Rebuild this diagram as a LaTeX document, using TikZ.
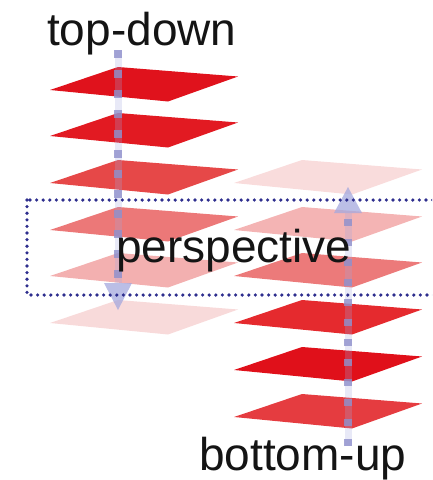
\documentclass[tikz,border=0pt]{standalone}
\usepackage{fontspec}
\setmainfont{Liberation Sans}
\definecolor{L1}{HTML}{E0121C}
\definecolor{L2}{HTML}{E21A22}
\definecolor{L3}{HTML}{E64848}
\definecolor{L4}{HTML}{EC7878}
\definecolor{L5}{HTML}{F3B0B0}
\definecolor{L6}{HTML}{F8DADA}
\definecolor{R1}{HTML}{F9DCDC}
\definecolor{R2}{HTML}{F4B4B4}
\definecolor{R3}{HTML}{EC7A7A}
\definecolor{R4}{HTML}{E52A2E}
\definecolor{R5}{HTML}{E0101A}
\definecolor{R6}{HTML}{E53C40}
\definecolor{lav}{HTML}{A4A8DE}
\definecolor{lavd}{HTML}{8E90CC}
\definecolor{navy}{HTML}{2E2E8E}
\newcommand\myplate[3]{\fill[#3] (#1,#2) -- ++(120,9.5) -- ++(-70,25) -- ++(-118,-11.5) -- cycle;}
\tikzset{
  lbl/.style={inner sep=0pt, anchor=base west, font=\fontsize{46}{50}\selectfont, text=black!92},
  trackline/.style={line width=7pt, lav, opacity=0.25},
  trackdash/.style={line width=7.5pt, lavd, opacity=0.8, dash pattern=on 7.5pt off 12.5pt},
  headtri/.style={fill=lav, opacity=0.75},
  dotbox/.style={navy, line width=3.6pt, line cap=round, dash pattern=on 0pt off 6.6pt}
}
\begin{document}
\begin{tikzpicture}[x=1pt,y=-1pt]
\useasboundingbox (0,0) rectangle (432,480);
\begin{scope}
\clip (0,0) rectangle (432,480);
% left stack
\myplate{118}{67}{L1}
\myplate{118}{113}{L2}
\myplate{118}{160}{L3}
\myplate{118}{207}{L4}
\myplate{118}{253}{L5}
\myplate{118}{300}{L6}
% right stack
\myplate{302}{160}{R1}
\myplate{302}{207}{R2}
\myplate{302}{253}{R3}
\myplate{302}{300}{R4}
\myplate{302}{347}{R5}
\myplate{302}{394}{R6}
% top-down track
\coordinate (tdA) at (118,50);
\coordinate (tdB) at (118,283);
\coordinate (tdT) at (118,310);
\draw[trackline] (tdA) -- (tdB);
\draw[trackdash] (tdA) -- (tdB);
\fill[headtri] ([xshift=-14pt]tdB) -- ([xshift=14pt]tdB) -- (tdT) -- cycle;
% bottom-up track
\coordinate (buA) at (348,446);
\coordinate (buB) at (348,213);
\coordinate (buT) at (348,187);
\draw[trackline] (buA) -- (buB);
\draw[trackdash] (buA) -- (buB);
\fill[headtri] ([xshift=-14pt]buB) -- ([xshift=14pt]buB) -- (buT) -- cycle;
% dotted box
\coordinate (bxA) at (27,200);
\coordinate (bxB) at (445,295);
\draw[dotbox] (bxA) rectangle (bxB);
\end{scope}
% labels
\node[lbl] (td) at (47,45) {top-down};
\node[lbl] (pp) at (116,262) {perspective};
\node[lbl] (bu) at (199,470) {bottom-up};
\end{tikzpicture}
\end{document}
